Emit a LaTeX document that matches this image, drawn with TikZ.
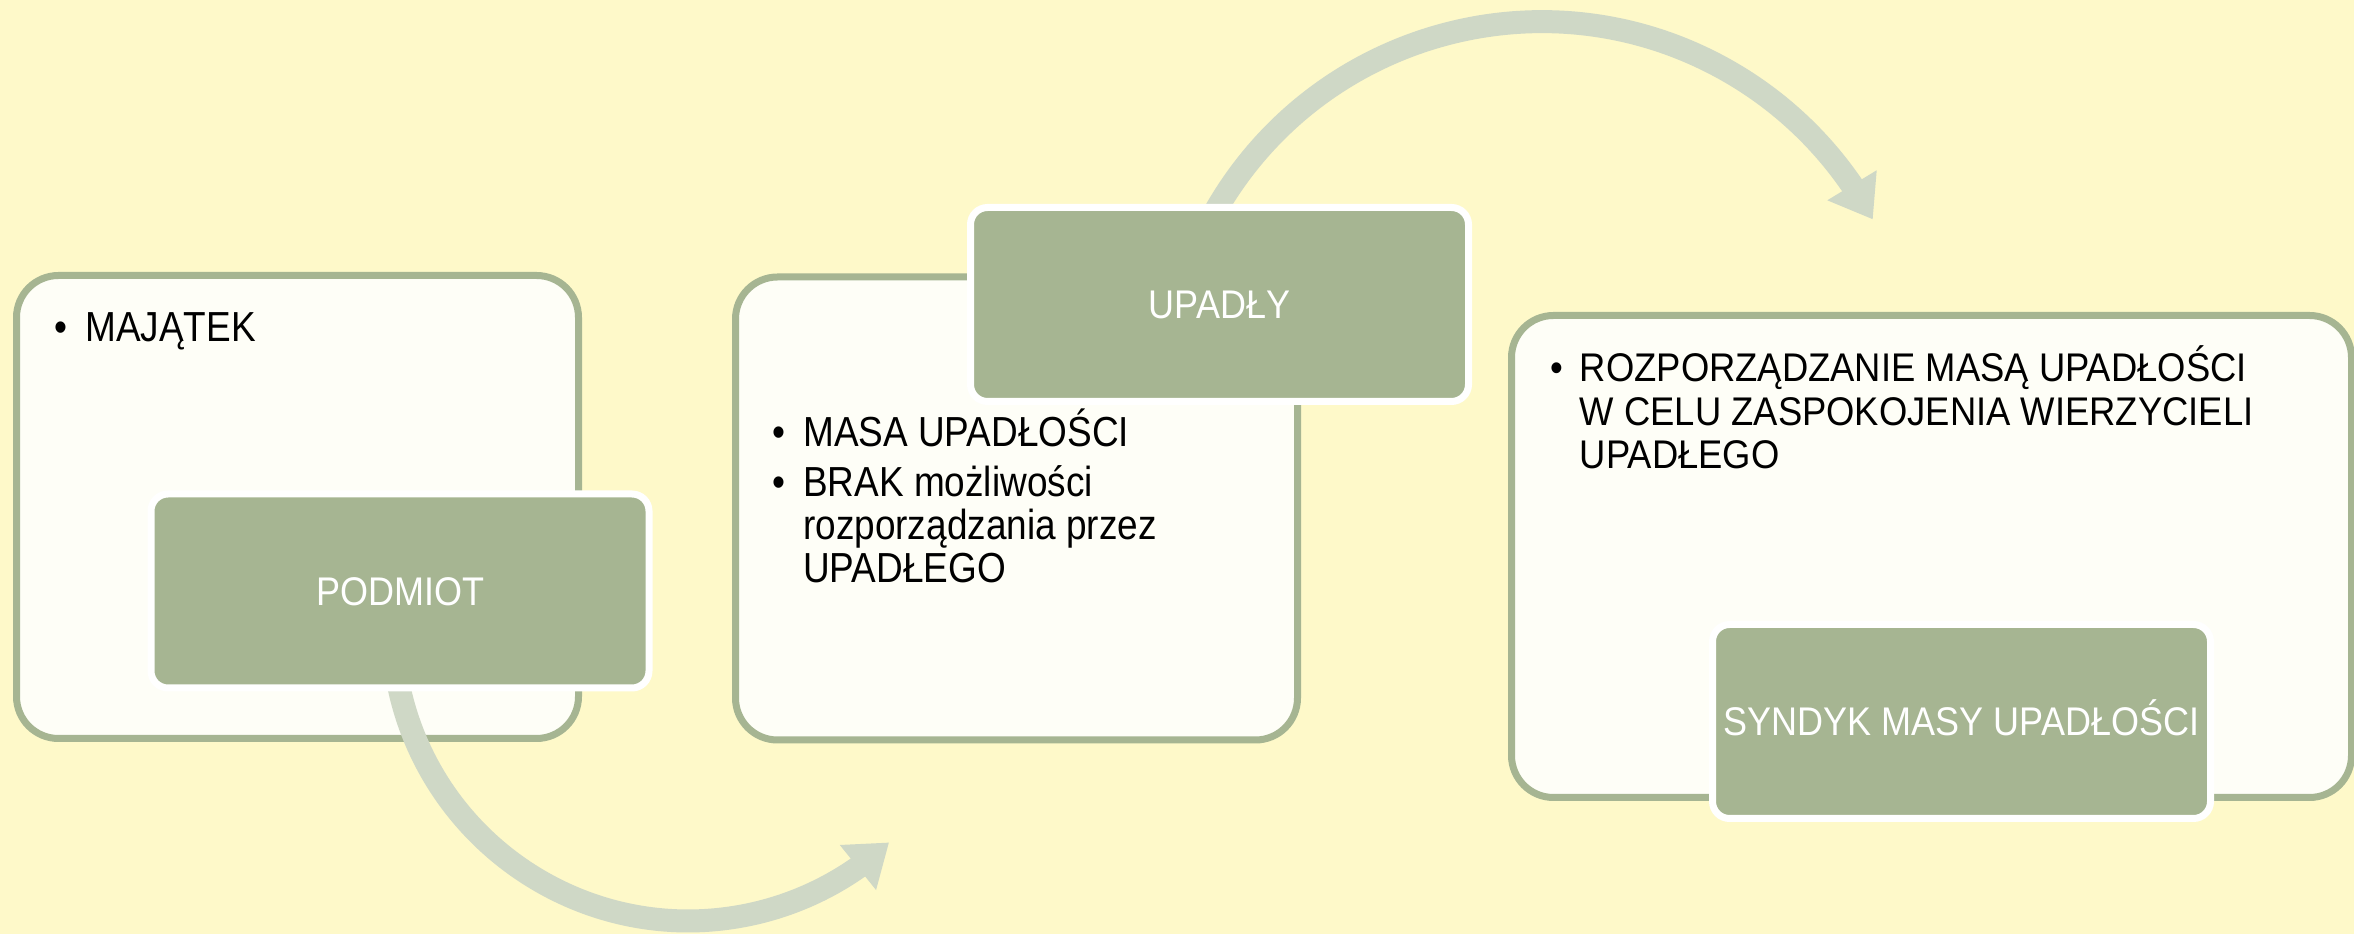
\documentclass[tikz,border=0pt]{standalone}
\usepackage{fontspec}
\setmainfont{Liberation Sans}
\newfontfamily\bodyfont[FakeStretch=0.88]{Liberation Sans}
\newfontfamily\widefont[FakeStretch=0.91]{Liberation Sans}
\newfontfamily\labelfont[FakeStretch=0.9]{Liberation Sans}
\usepackage{xcolor}
\usetikzlibrary{arrows.meta,bending}
\definecolor{bgyellow}{HTML}{FEF9C9}
\definecolor{boxline}{HTML}{A6B592}
\definecolor{boxfill}{HTML}{FEFEF7}
\definecolor{greenfill}{HTML}{A6B592}
\definecolor{arrowgray}{HTML}{CFD8C6}
\newcommand{\bodytext}{\bodyfont\fontsize{42}{43}\selectfont}
\newcommand{\widetext}{\widefont\fontsize{40}{43.5}\selectfont}
\pgfdeclarelayer{bg}
\pgfdeclarelayer{mid}
\pgfsetlayers{bg,mid,main}

\begin{document}
\begin{tikzpicture}[x=1pt,y=1pt,
    outerbox/.style={draw=boxline, line width=7pt, fill=boxfill, rounded corners=42pt,
        minimum width=562pt, minimum height=463pt, inner sep=0pt},
    greenbox/.style={draw=white, line width=7pt, fill=greenfill, rounded corners=17pt,
        minimum width=498pt, minimum height=194pt, inner sep=0pt, text=white,
        font=\labelfont\fontsize{40}{40}\selectfont, text height=29pt, text depth=0pt},
    bullettext/.style={anchor=base west, inner sep=0pt},
    bigarrow/.style={draw=arrowgray, line width=23pt, -{Triangle[length=40pt,width=55pt,flex]}}]
    \useasboundingbox (0,0) rectangle (2354,934);

    \begin{pgfonlayer}{bg}
    \fill[bgyellow] (0,0) rectangle (2354,934);
    % Outer boxes
    \node[outerbox] (box1) at (297.5,427) {};
    \node[outerbox] (box2) at (1016.5,425.5) {};
    \node[outerbox, minimum width=840pt, minimum height=482pt] (box3) at (1931.5,377.5) {};

    % Bullet texts
    \node[bullettext] (majatek) at (54.6,592) {\bodytext\begin{tabular}[t]{@{}l@{\hspace{17.5pt}}l@{}}
        \textbullet & \smash{MAJĄTEK}
    \end{tabular}};
    \node[bullettext] (masa) at (772.6,487) {\bodytext\begin{tabular}[t]{@{}l@{\hspace{17.5pt}}l@{}}
        \textbullet & \smash{MASA UPADŁOŚCI}\\[7pt]
        \textbullet & \smash{BRAK możliwości}\\
                    & \smash{rozporządzania przez}\\
                    & \smash{UPADŁEGO}
    \end{tabular}};
    \node[bullettext] (rozp) at (1550,552) {\widetext\begin{tabular}[t]{@{}l@{\hspace{17pt}}l@{}}
        \textbullet & \smash{ROZPORZĄDZANIE MASĄ UPADŁOŚCI}\\
                    & \smash{W CELU ZASPOKOJENIA WIERZYCIELI}\\
                    & \smash{UPADŁEGO}
    \end{tabular}};
    \end{pgfonlayer}

    % Green boxes
    \node[greenbox] (podmiot) at (400,343) {PODMIOT};
    \node[greenbox] (upadly) at (1219.5,629.5) {UPADŁY};
    \node[greenbox] (syndyk) at (1961.5,212.5) {SYNDYK MASY UPADŁOŚCI};

    % Arrows
    \begin{pgfonlayer}{mid}
    \draw[bigarrow] (podmiot.south) ++(-2.2,10.1) arc[start angle=191, end angle=312.7, radius=296];
    \draw[bigarrow] (upadly.north) ++(-6.6,-11.4) arc[start angle=151, end angle=28.3, radius=376];
    \end{pgfonlayer}
\end{tikzpicture}
\end{document}
